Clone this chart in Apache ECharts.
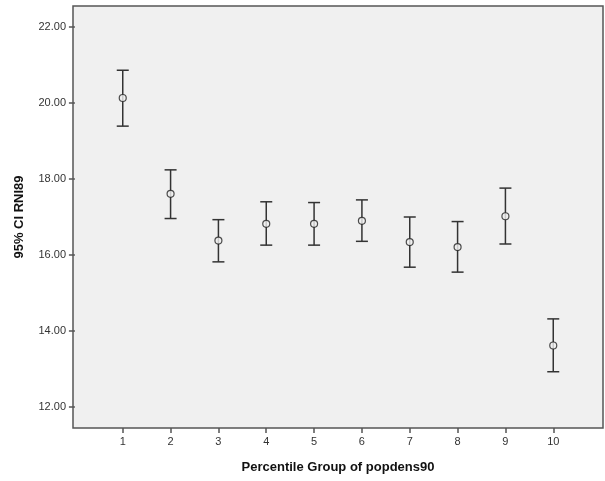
<!DOCTYPE html>
<html><head><meta charset="utf-8">
<script src="https://cdn.jsdelivr.net/npm/echarts@6/dist/echarts.min.js"></script>
<style>html,body{margin:0;padding:0;background:#fff}#c{width:605px;height:481px}</style>
</head><body><div id="c"></div>
<script>
const groups = [1,2,3,4,5,6,7,8,9,10];
const means = [20.13,17.61,16.38,16.82,16.82,16.90,16.34,16.21,17.02,13.62];
const upper = [20.86,18.24,16.93,17.40,17.38,17.45,17.00,16.88,17.76,14.32];
const lower = [19.39,16.96,15.82,16.26,16.26,16.36,15.68,15.55,16.29,12.93];
const yTicks = [12,14,16,18,20,22];

const chart = echarts.init(document.getElementById('c'));
const font = 'Liberation Sans, Arial, sans-serif';
chart.setOption({
  animation:false,
  backgroundColor:'#fff',
  grid:{left:73,right:2,top:6,bottom:53,show:true,backgroundColor:'#f0f0f0',borderColor:'#555',borderWidth:1.5},
  xAxis:{type:'value',min:-0.04,max:11.04,
    name:'Percentile Group of popdens90',nameLocation:'middle',nameGap:33,
    nameTextStyle:{fontFamily:font,fontWeight:'bold',fontSize:13,color:'#111'},
    splitLine:{show:false},
    axisLine:{show:false},
    axisTick:{show:true,length:5,lineStyle:{color:'#555',width:1.5},customValues:groups},
    axisLabel:{fontFamily:font,fontSize:11,color:'#333',margin:8,customValues:groups,formatter:v=>String(v)}
  },
  yAxis:{type:'value',min:11.45,max:22.55,
    name:'95% CI RNI89',nameLocation:'middle',nameGap:47,
    nameTextStyle:{fontFamily:font,fontWeight:'bold',fontSize:13,color:'#111'},
    splitLine:{show:false},
    axisLine:{show:false},
    axisTick:{show:true,length:6,lineStyle:{color:'#555',width:1.5},customValues:yTicks},
    axisLabel:{fontFamily:font,fontSize:11,color:'#333',margin:7,customValues:yTicks,formatter:v=>v.toFixed(2)}
  },
  series:[
    {type:'custom',
     data:groups.map((g,i)=>[g,lower[i],upper[i]]),
     renderItem:function(params,api){
       const x=api.value(0);
       const lo=api.coord([x,api.value(1)]);
       const hi=api.coord([x,api.value(2)]);
       const hw=6;
       const st={stroke:'#333',lineWidth:1.5};
       return {type:'group',children:[
         {type:'line',shape:{x1:lo[0],y1:lo[1],x2:hi[0],y2:hi[1]},style:st},
         {type:'line',shape:{x1:lo[0]-hw,y1:lo[1],x2:lo[0]+hw,y2:lo[1]},style:st},
         {type:'line',shape:{x1:hi[0]-hw,y1:hi[1],x2:hi[0]+hw,y2:hi[1]},style:st}
       ]};
     },
     z:2},
    {type:'scatter',data:groups.map((g,i)=>[g,means[i]]),symbol:'circle',symbolSize:7,
     itemStyle:{color:'#f0f0f0',borderColor:'#222',borderWidth:1.2},z:3}
  ]
});
</script></body></html>
